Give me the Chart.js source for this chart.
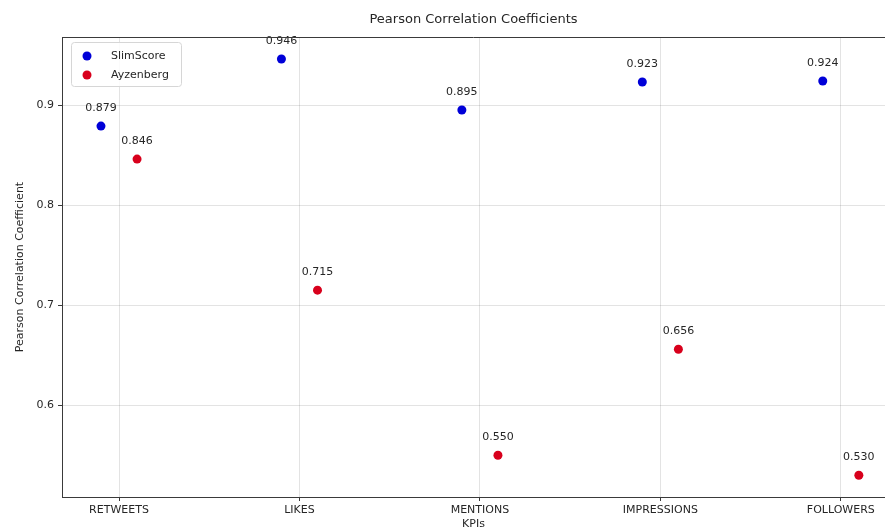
<!DOCTYPE html>
<html>
<head>
<meta charset="utf-8">
<script src="https://cdn.jsdelivr.net/npm/chart.js@4.4.1/dist/chart.umd.min.js"></script>
<style>
  html, body { margin: 0; padding: 0; background: #fff; }
  #wrap { width: 885px; height: 531px; }
</style>
</head>
<body>
<div id="wrap"><canvas id="chart" width="885" height="531"></canvas></div>
<script>
// KPI categories and correlation values
const categories = ['RETWEETS', 'LIKES', 'MENTIONS', 'IMPRESSIONS', 'FOLLOWERS'];
const slimScore = [0.879, 0.946, 0.895, 0.923, 0.924];
const ayzenberg = [0.846, 0.715, 0.550, 0.656, 0.530];
const yTicks = [0.6, 0.7, 0.8, 0.9];

const FONT = 'DejaVu Sans';
const TEXT = '#262626';
const BLUE = '#0000d8';
const RED = '#d8001c';

// points sit a little left / right of the category
const toPoints = (vals, shift) => vals.map((v, i) => ({ x: i + shift, y: v }));

// value labels above each point
const valueLabels = {
    id: 'valueLabels',
    afterDatasetsDraw(chart) {
        const ctx = chart.ctx;
        ctx.save();
        ctx.font = `11px "${FONT}"`;
        ctx.fillStyle = TEXT;
        ctx.textAlign = 'center';
        ctx.textBaseline = 'middle';
        chart.data.datasets.forEach((ds, di) => {
            chart.getDatasetMeta(di).data.forEach((pt, i) => {
                ctx.fillText(ds.data[i].y.toFixed(3), pt.x, pt.y - 18);
            });
        });
        ctx.restore();
    }
};

// title, top spine and in-plot legend
const decorations = {
    id: 'decorations',
    afterDraw(chart) {
        const ctx = chart.ctx;
        const a = chart.chartArea;
        ctx.save();

        ctx.strokeStyle = '#3a3a3a';
        ctx.lineWidth = 1;
        ctx.beginPath();
        ctx.moveTo(a.left, a.top + 0.5);
        ctx.lineTo(a.right, a.top + 0.5);
        ctx.stroke();

        ctx.font = `13px "${FONT}"`;
        ctx.fillStyle = TEXT;
        ctx.textAlign = 'center';
        ctx.textBaseline = 'middle';
        ctx.fillText('Pearson Correlation Coefficients', (a.left + a.right) / 2, 20);

        // legend box
        const bx = 71, by = 42, bw = 110, bh = 44;
        ctx.fillStyle = 'rgba(255,255,255,0.85)';
        ctx.strokeStyle = '#d6d6d6';
        ctx.beginPath();
        ctx.roundRect(bx + 0.5, by + 0.5, bw, bh, 3);
        ctx.fill();
        ctx.stroke();

        ctx.font = `11px "${FONT}"`;
        ctx.textAlign = 'left';
        chart.data.datasets.forEach((ds, i) => {
            const y = by + 14 + i * 19;
            ctx.fillStyle = ds.backgroundColor;
            ctx.beginPath();
            ctx.arc(bx + 16, y, 4.5, 0, Math.PI * 2);
            ctx.fill();
            ctx.fillStyle = TEXT;
            ctx.fillText(ds.label, bx + 40, y);
        });
        ctx.restore();
    }
};

new Chart(document.getElementById('chart'), {
    type: 'scatter',
    data: {
        datasets: [
            {
                label: 'SlimScore',
                data: toPoints(slimScore, -0.1),
                backgroundColor: BLUE,
                borderColor: BLUE,
                pointRadius: 4.5,
                pointBorderWidth: 0
            },
            {
                label: 'Ayzenberg',
                data: toPoints(ayzenberg, 0.1),
                backgroundColor: RED,
                borderColor: RED,
                pointRadius: 4.5,
                pointBorderWidth: 0
            }
        ]
    },
    options: {
        responsive: false,
        animation: false,
        layout: { autoPadding: false, padding: { top: 37, right: 0, left: 0, bottom: 0 } },
        plugins: {
            legend: { display: false },
            tooltip: { enabled: false }
        },
        scales: {
            x: {
                type: 'linear',
                min: -0.316,
                max: 4.245,
                afterBuildTicks: (scale) => {
                    scale.ticks = categories.map((c, i) => ({ value: i }));
                },
                afterFit: (scale) => {
                    scale.height = 34;
                    scale.paddingRight = 0;
                    scale.paddingLeft = 0;
                },
                ticks: {
                    callback: (v) => categories[v] || '',
                    font: { family: FONT, size: 11 },
                    color: TEXT,
                    padding: 3,
                    maxRotation: 0,
                    autoSkip: false
                },
                grid: { color: 'rgba(0,0,0,0.11)', tickLength: 4, tickColor: '#3a3a3a' },
                border: { color: '#3a3a3a', width: 1 },
                title: {
                    display: true,
                    text: 'KPIs',
                    font: { family: FONT, size: 11 },
                    color: TEXT,
                    padding: { top: 1, bottom: 0 }
                }
            },
            y: {
                min: 0.5083,
                max: 0.968,
                afterBuildTicks: (scale) => {
                    scale.ticks = yTicks.map(v => ({ value: v }));
                },
                afterFit: (scale) => { scale.width = 62; },
                ticks: {
                    callback: (v) => v.toFixed(1),
                    font: { family: FONT, size: 11 },
                    color: TEXT,
                    padding: 4
                },
                grid: { color: 'rgba(0,0,0,0.11)', tickLength: 4, tickColor: '#3a3a3a' },
                border: { color: '#3a3a3a', width: 1 },
                title: {
                    display: true,
                    text: 'Pearson Correlation Coefficient',
                    font: { family: FONT, size: 11 },
                    color: TEXT,
                    padding: { top: 14, bottom: 0 }
                }
            }
        }
    },
    plugins: [valueLabels, decorations]
});
</script>
</body>
</html>
